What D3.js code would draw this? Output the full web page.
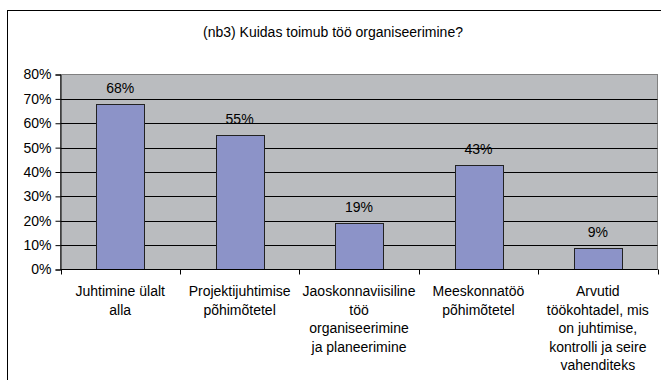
<!DOCTYPE html>
<html><head><meta charset="utf-8">
<script src="https://cdn.jsdelivr.net/npm/d3@7"></script>
<style>body{margin:0;background:#fff}svg{display:block;font-family:"Liberation Sans",Arial,sans-serif}</style>
</head><body><svg id="c" width="661" height="380"></svg>
<script>
const title = "(nb3) Kuidas toimub töö organiseerimine?";
const categories = [
  ["Juhtimine ülalt", "alla"],
  ["Projektijuhtimise", "põhimõtetel"],
  ["Jaoskonnaviisiline", "töö", "organiseerimine", "ja planeerimine"],
  ["Meeskonnatöö", "põhimõtetel"],
  ["Arvutid", "töökohtadel, mis", "on juhtimise,", "kontrolli ja seire", "vahenditeks"]
];
const values = [0.68, 0.55, 0.19, 0.43, 0.09];
const yTicks = [0, 0.1, 0.2, 0.3, 0.4, 0.5, 0.6, 0.7, 0.8];

const svg = d3.select("#c");
const L = 60.5, R = 657.5, T = 74.5, B = 269.5;
svg.append("rect").attr("x", 7.5).attr("y", 10.5).attr("width", 700).attr("height", 400)
  .attr("fill", "#fff").attr("stroke", "#000");
svg.append("text").attr("x", 333).attr("y", 37).attr("text-anchor", "middle")
  .attr("font-size", 14).text(title);

const x = d3.scaleBand().domain(d3.range(categories.length)).range([L, R]).paddingInner(0.6).paddingOuter(0.3);
const y = d3.scaleLinear().domain([0, 0.8]).range([B, T]);

svg.append("rect").attr("x", L).attr("y", T).attr("width", R - L).attr("height", B - T)
  .attr("fill", "#BABCBF").attr("stroke", "#808080");
svg.append("g").selectAll("line").data(yTicks.filter(d => d > 0 && d < 0.8)).join("line")
  .attr("x1", L).attr("x2", R).attr("y1", d => Math.round(y(d)) + 0.5).attr("y2", d => Math.round(y(d)) + 0.5)
  .attr("stroke", "#000");

svg.append("g").selectAll("rect").data(values).join("rect")
  .attr("x", (d, i) => Math.round(x(i)) + 0.5).attr("width", Math.round(x.bandwidth()))
  .attr("y", d => Math.round(y(d)) + 0.5).attr("height", d => B - Math.round(y(d)) - 0.5)
  .attr("fill", "#8C93C8").attr("stroke", "#222");

svg.append("g").selectAll("text").data(values).join("text")
  .attr("x", (d, i) => x(i) + x.bandwidth() / 2).attr("y", d => y(d) - 11)
  .attr("text-anchor", "middle").attr("font-size", 14)
  .text(d => d3.format(".0%")(d));

const yAxis = svg.append("g").attr("transform", `translate(${L},0)`)
  .call(d3.axisLeft(y).tickValues(yTicks).tickFormat(d3.format(".0%")).tickSize(5).tickPadding(4));
yAxis.select(".domain").attr("stroke", "#000");
yAxis.selectAll("line").attr("stroke", "#000");
yAxis.selectAll("text").attr("font-size", 14).attr("font-family", "Liberation Sans, Arial").attr("fill", "#000");

const bounds = d3.range(categories.length + 1).map(i => L + i * (R - L) / categories.length);
svg.append("line").attr("x1", L).attr("x2", R).attr("y1", B).attr("y2", B).attr("stroke", "#000");
svg.append("g").selectAll("line").data(bounds).join("line")
  .attr("x1", d => Math.round(d) + 0.5).attr("x2", d => Math.round(d) + 0.5).attr("y1", B).attr("y2", B + 5)
  .attr("stroke", "#000");

const lab = svg.append("g").selectAll("text").data(categories).join("text")
  .attr("text-anchor", "middle").attr("font-size", 14)
  .attr("x", (d, i) => x(i) + x.bandwidth() / 2).attr("y", 296);
lab.selectAll("tspan").data(d => d).join("tspan")
  .attr("x", function () { return this.parentNode.getAttribute("x"); })
  .attr("dy", (d, i) => i === 0 ? 0 : 18.5).text(d => d);
</script></body></html>
